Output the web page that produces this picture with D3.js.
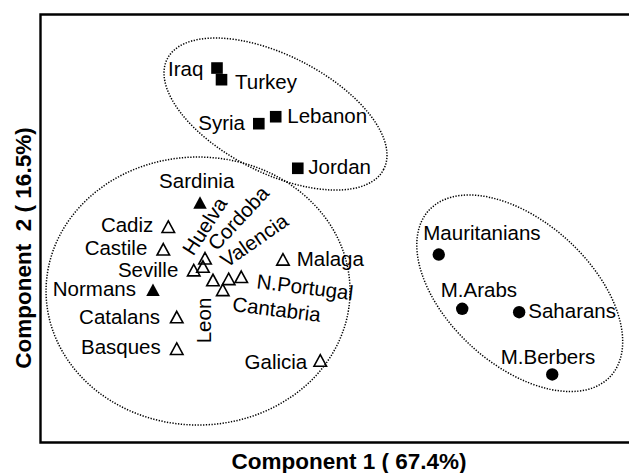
<!DOCTYPE html>
<html>
<head>
<meta charset="utf-8">
<script src="https://cdn.jsdelivr.net/npm/d3@7/dist/d3.min.js"></script>
<style>
    body { margin: 0; background: #fff; }
    text { font-family: "Liberation Sans", Arial, Helvetica, sans-serif; fill: #000; }
</style>
</head>
<body>
<svg id="chart" width="629" height="473"></svg>
<script>
// PCA scores (component 1, component 2)
var middleEast = ["Iraq", "Turkey", "Syria", "Lebanon", "Jordan"];
var middleEastPC1 = [-1.197, -1.151, -0.771, -0.599, -0.374];
var middleEastPC2 = [1.495, 1.386, 0.975, 1.040, 0.558];

var filledTri = ["Sardinia", "Normans"];
var filledTriPC1 = [-1.370, -1.849];
var filledTriPC2 = [0.238, -0.577];

var iberia = ["Cadiz", "Castile", "Seville", "Huelva", "Cordoba", "Leon", "Valencia",
              "N.Portugal", "Cantabria", "Malaga", "Catalans", "Basques", "Galicia"];
var iberiaPC1 = [-1.693, -1.744, -1.434, -1.319, -1.340, -1.238, -1.078,
                 -0.950, -1.138, -0.525, -1.607, -1.607, -0.145];
var iberiaPC2 = [0.012, -0.199, -0.394, -0.283, -0.360, -0.486, -0.475,
                 -0.456, -0.578, -0.293, -0.832, -1.128, -1.238];

var northAfrica = ["Mauritanians", "M.Arabs", "Saharans", "M.Berbers"];
var northAfricaPC1 = [1.062, 1.301, 1.881, 2.218];
var northAfricaPC2 = [-0.248, -0.755, -0.787, -1.369];

// group ellipse centres (same units)
var ellipseNames = ["middleEast", "iberia", "northAfrica"];
var ellipsePC1 = [-0.601, -1.390, 1.887];
var ellipsePC2 = [1.065, -0.589, -0.610];

var xTitle = "Component 1 ( 67.4%)";
var yTitle = "Component\u00a0\u00a02 ( 16.5%)";

// layout only: label offsets from marker, ellipse shapes
var labelLayout = {
    "Iraq":        {dx: -13.7, dy: 8,    anchor: "end"},
    "Turkey":      {dx: 13.5,  dy: 9.6,  anchor: "start"},
    "Syria":       {dx: -13.8, dy: 6.3,  anchor: "end"},
    "Lebanon":     {dx: 11.6,  dy: 6.6,  anchor: "start"},
    "Jordan":      {dx: 10.5,  dy: 5.7,  anchor: "start"},
    "Sardinia":    {dx: -3.3,  dy: -14.2, anchor: "middle"},
    "Normans":     {dx: -17,   dy: 6.3,  anchor: "end"},
    "Cadiz":       {dx: -15,   dy: 5,    anchor: "end"},
    "Castile":     {dx: -16,   dy: 5.7,  anchor: "end"},
    "Seville":     {dx: -15.4, dy: 6.5,  anchor: "end"},
    "Catalans":    {dx: -16.7, dy: 7,    anchor: "end"},
    "Basques":     {dx: -16,   dy: 5.3,  anchor: "end"},
    "Galicia":     {dx: -13,   dy: 8.8,  anchor: "end"},
    "Malaga":      {dx: 13.7,  dy: 6.7,  anchor: "start"},
    "Huelva":      {dx: -11.7, dy: -1.6, anchor: "start", rotate: -57},
    "Cordoba":     {dx: 13.7,  dy: -14.8, anchor: "start", rotate: -47},
    "Valencia":    {dx: -2,    dy: -10.5, anchor: "start", rotate: -35},
    "Leon":        {dx: -1.5,  dy: 63.3, anchor: "start", rotate: -90},
    "N.Portugal":  {dx: 14.8,  dy: 11.5, anchor: "start", rotate: 7},
    "Cantabria":   {dx: 8.9,   dy: 21.2, anchor: "start", rotate: 7},
    "Mauritanians":{dx: -15.5, dy: -14.5, anchor: "start"},
    "M.Arabs":     {dx: -21.5, dy: -12.1, anchor: "start"},
    "Saharans":    {dx: 9.1,   dy: 6.1,  anchor: "start"},
    "M.Berbers":   {dx: -51.5, dy: -10.5, anchor: "start"}
};
var ellipseShape = {
    middleEast:  {rx: 121.5, ry: 58.7, angle: 27},
    iberia:      {rx: 152,   ry: 134,  angle: 0},
    northAfrica: {rx: 123,   ry: 71.6, angle: 42.3}
};

var svg = d3.select("#chart");
var frameLeft = 40.5, frameTop = 14.5, frameBottom = 442.5, frameRight = 640;

var x = d3.scaleLinear().domain([-3, 3]).range([40, 629]);
var y = d3.scaleLinear().domain([-2, 2]).range([442, 14]);

var makePoints = function(names, pc1, pc2, kind) {
    return names.map(function(n, i) {
        return {name: n, px: x(pc1[i]), py: y(pc2[i]), kind: kind};
    });
};

var points = [].concat(
    makePoints(middleEast, middleEastPC1, middleEastPC2, "square"),
    makePoints(filledTri, filledTriPC1, filledTriPC2, "triFilled"),
    makePoints(iberia, iberiaPC1, iberiaPC2, "triOpen"),
    makePoints(northAfrica, northAfricaPC1, northAfricaPC2, "circle")
);

// frame, open on the right
svg.append("path")
    .attr("d", "M" + frameRight + "," + frameTop + "H" + frameLeft + "V" + frameBottom + "H" + frameRight)
    .attr("fill", "none")
    .attr("stroke", "#000")
    .attr("stroke-width", 2.4);

// dotted group ellipses
svg.selectAll("ellipse.group")
    .data(ellipseNames)
    .enter().append("ellipse")
    .attr("class", "group")
    .attr("transform", function(d, i) {
        return "translate(" + x(ellipsePC1[i]) + "," + y(ellipsePC2[i]) + ") rotate(" + ellipseShape[d].angle + ")";
    })
    .attr("rx", function(d) { return ellipseShape[d].rx; })
    .attr("ry", function(d) { return ellipseShape[d].ry; })
    .attr("fill", "none")
    .attr("stroke", "#000")
    .attr("stroke-width", 1.5)
    .attr("stroke-dasharray", "1.3,1.5");

var triPath = function(w, h) {
    return "M0," + (-h / 2) + "L" + (w / 2) + "," + (h / 2) + "L" + (-w / 2) + "," + (h / 2) + "Z";
};

var marks = svg.selectAll("g.mark")
    .data(points)
    .enter().append("g")
    .attr("class", "mark")
    .attr("transform", function(d) { return "translate(" + d.px + "," + d.py + ")"; });

marks.each(function(d) {
    var g = d3.select(this);
    if (d.kind == "square") {
        g.append("rect").attr("x", -5.8).attr("y", -5.8).attr("width", 11.6).attr("height", 11.6)
            .attr("fill", "#000");
    } else if (d.kind == "circle") {
        g.append("circle").attr("r", 6.2).attr("fill", "#000");
    } else if (d.kind == "triFilled") {
        g.append("path").attr("d", triPath(13.5, 12.5)).attr("fill", "#000");
    } else {
        g.append("path").attr("d", triPath(12.5, 11.5))
            .attr("fill", "none").attr("stroke", "#000").attr("stroke-width", 1.6)
            .attr("stroke-linejoin", "miter");
    }
});

// labels
svg.selectAll("text.lab")
    .data(points)
    .enter().append("text")
    .attr("class", "lab")
    .attr("font-size", 20.5)
    .attr("text-anchor", function(d) { return labelLayout[d.name].anchor; })
    .attr("transform", function(d) {
        var l = labelLayout[d.name];
        return "translate(" + (d.px + l.dx) + "," + (d.py + l.dy) + ")" + (l.rotate ? " rotate(" + l.rotate + ")" : "");
    })
    .text(function(d) { return d.name; });

// axis titles
svg.append("text")
    .attr("x", 349).attr("y", 469)
    .attr("text-anchor", "middle")
    .attr("font-size", 22.5).attr("font-weight", "bold")
    .text(xTitle);

svg.append("text")
    .attr("transform", "translate(31,248) rotate(-90)")
    .attr("text-anchor", "middle")
    .attr("font-size", 22.5).attr("font-weight", "bold")
    .text(yTitle);
</script>
</body>
</html>
